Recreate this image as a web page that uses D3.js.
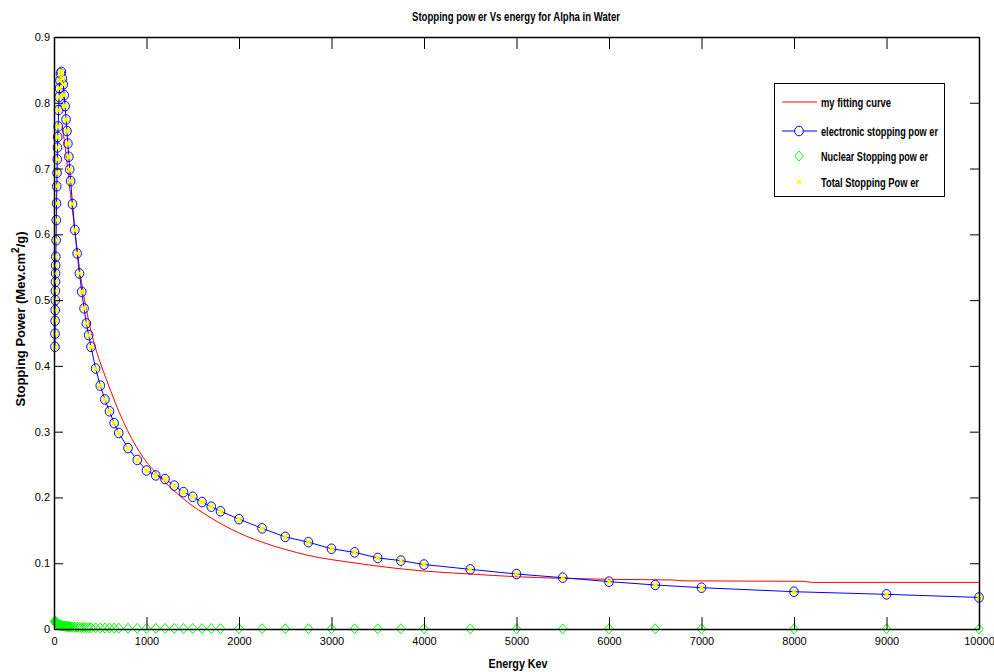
<!DOCTYPE html>
<html>
<head>
<meta charset="utf-8">
<script src="https://cdn.jsdelivr.net/npm/d3@7/dist/d3.min.js"></script>
<style>
  html, body { margin: 0; padding: 0; background: #fff; }
  svg { display: block; }
  text { font-family: "Liberation Sans", Arial, sans-serif; }
</style>
</head>
<body>
<svg id="chart" width="994" height="672"></svg>
<script>
// ---------------- data ----------------
const energy = [10,11,12,13,14,15,16,17,18,20,22.5,25,27.5,30,32.5,35,37.5,40,45,50,55,60,65,70,80,90,100,
  110,120,130,140,150,160,170,180,200,225,250,275,300,325,350,375,400,450,500,550,600,650,700,800,900,1000,
  1100,1200,1300,1400,1500,1600,1700,1800,2000,2250,2500,2750,3000,3250,3500,3750,4000,4500,5000,5500,6000,
  6500,7000,8000,9000,10000];

const electronicPower = [0.429,0.449,0.4685,0.4848,0.500,0.514,0.5278,0.5406,0.553,0.566,0.591,0.6216,0.647,
  0.673,0.6935,0.714,0.732,0.748,0.764,0.789,0.809,0.822,0.834,0.8445,0.847,0.837,0.828,
  0.8116,0.795,0.7746,0.757,0.738,0.718,0.6986,0.681,0.646,0.6067,0.571,0.5406,0.5126,0.4874,0.4646,0.4468,0.429,
  0.396,0.370,0.349,0.331,0.313,0.298,0.275,0.257,0.241,
  0.2335,0.228,0.218,0.208,0.201,0.193,0.186,0.179,0.167,0.153,0.140,0.132,0.122,0.1165,0.108,0.104,0.098,
  0.0907,0.0836,0.078,0.072,0.0669,0.0628,0.0567,0.0527,0.048];

const nuclearPower = [0.012,0.0118,0.0115,0.0112,0.011,0.0107,0.0105,0.0103,0.0101,0.0097,0.0093,0.0089,0.0086,
  0.0083,0.008,0.0078,0.0075,0.0073,0.0069,0.0066,0.0063,0.006,0.0058,0.0056,0.0052,0.0049,0.0046,
  0.0044,0.0042,0.004,0.0038,0.0037,0.0035,0.0034,0.0033,0.0031,0.0028,0.0026,0.0025,0.0023,0.0022,0.0021,0.002,0.0019,
  0.0017,0.0016,0.0015,0.0014,0.0013,0.0012,0.0011,0.001,0.0009,
  0.0009,0.0008,0.0008,0.0007,0.0007,0.0006,0.0006,0.0005,0.0005,0.0004,0.0004,0.0004,0.0003,0.0003,0.0003,0.0003,0.0003,
  0.0002,0.0002,0.0002,0.0002,0.0002,0.0002,0.0001,0.0001,0.0001];

const totalPower = [0.429,0.449,0.4685,0.4848,0.500,0.514,0.5278,0.5406,0.553,0.566,0.591,0.6216,0.647,
  0.673,0.6935,0.714,0.732,0.748,0.764,0.789,0.809,0.822,0.834,0.8445,0.847,0.837,0.828,
  0.8116,0.795,0.7746,0.757,0.738,0.718,0.6986,0.681,0.646,0.6067,0.571,0.5406,0.5126,0.4874,0.4646,0.4468,0.429,
  0.396,0.370,0.349,0.331,0.313,0.298,0.275,0.257,0.241,
  0.2335,0.228,0.218,0.208,0.201,0.193,0.186,0.179,0.167,0.153,0.140,0.132,0.122,0.1165,0.108,0.104,0.098,
  0.0907,0.0836,0.078,0.072,0.0669,0.0628,0.0567,0.0527,0.048];

const fitEnergy = [90,137,166,191,209,274,364,443,497,570,750,930,1000,1100,1200,1290,1470,1650,1830,2000,2335,2500,2746,
  3232,3957,4497,5000,5500,6000,6700,6800,8100,8200,10000];
const fitPower = [0.765,0.713,0.675,0.646,0.625,0.550,0.476,0.430,0.406,0.378,0.315,0.268,0.254,0.238,0.223,0.211,
  0.190,0.173,0.158,0.146,0.128,0.121,0.112,0.1008,0.0886,0.0836,0.0795,0.077,0.0755,0.0745,0.0732,0.0725,0.0708,0.0708];

const xTicks = [0,1000,2000,3000,4000,5000,6000,7000,8000,9000,10000];
const yTicks = [0,0.1,0.2,0.3,0.4,0.5,0.6,0.7,0.8,0.9];
const yTickLabels = ["0","0.1","0.2","0.3","0.4","0.5","0.6","0.7","0.8","0.9"];

const titleText = "Stopping pow er Vs energy for Alpha in Water";
const xLabel = "Energy Kev";
const legendLabels = ["my fitting curve","electronic stopping pow er","Nuclear Stopping pow er","Total Stopping Pow er"];

// ---------------- drawing ----------------
const svg = d3.select("#chart");
svg.append("rect").attr("width",994).attr("height",672).attr("fill","#fff");

const x = d3.scaleLinear().domain([0,10000]).range([54,979]);
const y = d3.scaleLinear().domain([0,0.9]).range([629,37]);

const plot = svg.append("g");

// red fitting curve
const fitData = fitEnergy.map((e,i)=>[e,fitPower[i]]);
plot.append("path").datum(fitData)
  .attr("fill","none").attr("stroke","#ff0000").attr("stroke-width",1)
  .attr("d", d3.line().curve(d3.curveMonotoneX).x(d=>x(d[0])).y(d=>y(d[1])));

// blue electronic line + circles
const elData = energy.map((e,i)=>[e,electronicPower[i]]);
plot.append("path").datum(elData)
  .attr("fill","none").attr("stroke","#0000ff").attr("stroke-width",1)
  .attr("d", d3.line().x(d=>x(d[0])).y(d=>y(d[1])));
plot.append("g").selectAll("ellipse").data(elData).join("ellipse")
  .attr("cx",d=>x(d[0])).attr("cy",d=>y(d[1]))
  .attr("rx",4.3).attr("ry",4.8)
  .attr("fill","none").attr("stroke","#0000ff").attr("stroke-width",1);

// green diamonds (nuclear)
const nuData = energy.map((e,i)=>[e,nuclearPower[i]]);
plot.append("g").selectAll("path").data(nuData).join("path")
  .attr("transform",d=>`translate(${x(d[0])},${y(d[1])})`)
  .attr("d","M0,-5L4.3,0L0,5L-4.3,0Z")
  .attr("fill","none").attr("stroke","#00ff00").attr("stroke-width",1);

// yellow x (total)
const toData = energy.map((e,i)=>[e,totalPower[i]]);
plot.append("g").selectAll("path").data(toData).join("path")
  .attr("transform",d=>`translate(${x(d[0])},${y(d[1])})`)
  .attr("d","M-2.5,-2.5L2.5,2.5M-2.5,2.5L2.5,-2.5")
  .attr("fill","none").attr("stroke","#ffff00").attr("stroke-width",2);

// axes
const axisStyle = g => {
  g.selectAll(".domain").attr("stroke","#000").attr("stroke-width",1.5);
  g.selectAll(".tick line").attr("stroke","#000").attr("stroke-width",1);
  g.selectAll("text").attr("fill","#000").style("font-size","11px").style("font-family","'Liberation Sans', Arial, sans-serif");
};

svg.append("g").attr("transform","translate(0,629)")
  .call(d3.axisBottom(x).tickValues(xTicks).tickFormat(d3.format("d")).tickSizeInner(-12).tickSizeOuter(0).tickPadding(8))
  .call(axisStyle);
svg.append("g").attr("transform","translate(0,37)")
  .call(d3.axisTop(x).tickValues(xTicks).tickFormat("").tickSizeInner(-12).tickSizeOuter(0))
  .call(axisStyle);
svg.append("g").attr("transform","translate(54,0)")
  .call(d3.axisLeft(y).tickValues(yTicks).tickFormat((d,i)=>yTickLabels[i]).tickSizeInner(-9).tickSizeOuter(0).tickPadding(4))
  .call(axisStyle);
svg.append("g").attr("transform","translate(979,0)")
  .call(d3.axisRight(y).tickValues(yTicks).tickFormat("").tickSizeInner(-9).tickSizeOuter(0))
  .call(axisStyle);

// title
svg.append("text").attr("x",516).attr("y",21).attr("text-anchor","middle")
  .style("font-size","13px").style("font-weight","bold")
  .attr("textLength",208).attr("lengthAdjust","spacingAndGlyphs")
  .text(titleText);

// x label
svg.append("text").attr("x",518).attr("y",668).attr("text-anchor","middle")
  .style("font-size","13px").style("font-weight","bold")
  .attr("textLength",59).attr("lengthAdjust","spacingAndGlyphs")
  .text(xLabel);

// y label
const yl = svg.append("text").attr("transform","translate(25,319) rotate(-90)")
  .attr("text-anchor","middle").style("font-size","13px").style("font-weight","bold");
yl.append("tspan").text("Stopping Power (Mev.cm");
yl.append("tspan").attr("dy",-6).style("font-size","10px").text("2");
yl.append("tspan").attr("dy",6).text("/g)");

// legend
const lg = svg.append("g");
lg.append("rect").attr("x",774.5).attr("y",83.5).attr("width",170).attr("height",113)
  .attr("fill","#fff").attr("stroke","#000").attr("stroke-width",1);
const rowY = [102,131,156,182];
const textW = [70,117,107,98];
legendLabels.forEach((lab,i)=>{
  const cy = rowY[i];
  if (i===0) lg.append("line").attr("x1",782).attr("x2",817).attr("y1",cy).attr("y2",cy).attr("stroke","#ff0000");
  if (i===1) {
    lg.append("line").attr("x1",782).attr("x2",817).attr("y1",cy).attr("y2",cy).attr("stroke","#0000ff");
    lg.append("ellipse").attr("cx",799).attr("cy",cy).attr("rx",4.3).attr("ry",4.8).attr("fill","#fff").attr("stroke","#0000ff");
  }
  if (i===2) lg.append("path").attr("transform",`translate(799,${cy})`).attr("d","M0,-5L4.3,0L0,5L-4.3,0Z")
      .attr("fill","none").attr("stroke","#00ff00");
  if (i===3) lg.append("path").attr("transform",`translate(799,${cy})`).attr("d","M-2,-2L2,2M-2,2L2,-2")
      .attr("fill","none").attr("stroke","#ffff00").attr("stroke-width",1.6);
  lg.append("text").attr("x",821).attr("y",cy+5)
    .style("font-size","12px").style("font-weight","bold")
    .attr("textLength",textW[i]).attr("lengthAdjust","spacingAndGlyphs")
    .text(lab);
});
</script>
</body>
</html>
